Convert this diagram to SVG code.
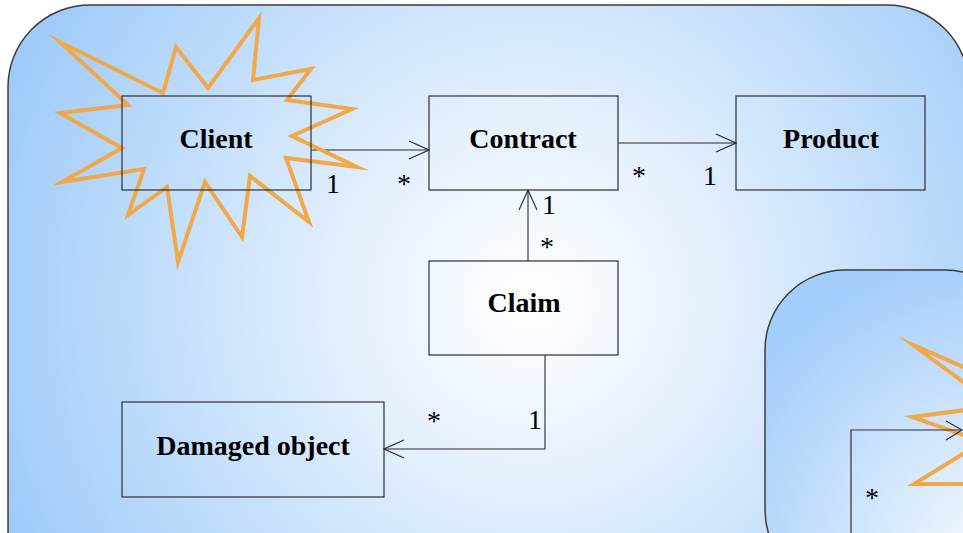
<svg xmlns="http://www.w3.org/2000/svg" width="963" height="533" viewBox="0 0 963 533">
  <defs>
    <radialGradient id="bgMain" gradientUnits="userSpaceOnUse" cx="530" cy="300" r="560">
      <stop offset="0" stop-color="#ffffff"/>
      <stop offset="0.35" stop-color="#e2effd"/>
      <stop offset="1" stop-color="#9fcbf9"/>
    </radialGradient>
    <radialGradient id="bgInner" gradientUnits="userSpaceOnUse" cx="1010" cy="570" r="320">
      <stop offset="0" stop-color="#ffffff"/>
      <stop offset="0.3" stop-color="#e0eefd"/>
      <stop offset="1" stop-color="#a3cdfa"/>
    </radialGradient>
    <marker id="open" viewBox="0 0 22 20" refX="21" refY="10" markerWidth="22" markerHeight="20" markerUnits="userSpaceOnUse" orient="auto">
      <path d="M1,1 L21,10 L1,19" fill="none" stroke="#2a2a2a" stroke-width="1.1"/>
    </marker>
    <style>
      .frame { stroke: #3c3c3c; stroke-width: 1.5; }
      .box { fill: none; stroke: #2e2e2e; stroke-width: 1.2; }
      .name { font-family: "Liberation Serif", "Times New Roman", serif; font-weight: bold; font-size: 28px; fill: #000; text-anchor: middle; }
      .mult { font-family: "Liberation Serif", "Times New Roman", serif; font-size: 28px; fill: #000; text-anchor: middle; }
      .conn { fill: none; stroke: #2a2a2a; stroke-width: 1.1; }
      .star { fill: none; stroke: #f0a848; stroke-width: 4; stroke-linejoin: miter; stroke-miterlimit: 10; }
    </style>
  </defs>

  <!-- slide background -->
  <rect x="0" y="0" width="963" height="533" fill="#ffffff"/>
  <rect class="frame" x="8" y="5" width="961" height="620" rx="82" ry="82" fill="url(#bgMain)"/>

  <!-- connectors -->
  <g id="connectors">
    <line class="conn" x1="311" y1="150" x2="429" y2="150" marker-end="url(#open)"/>
    <line class="conn" x1="618" y1="143" x2="736" y2="143" marker-end="url(#open)"/>
    <line class="conn" x1="528" y1="261" x2="528" y2="190" marker-end="url(#open)"/>
    <polyline class="conn" points="545,355 545,449 384,449" marker-end="url(#open)"/>
    <text class="mult" x="333" y="193">1</text>
    <text class="mult" x="404" y="193">*</text>
    <text class="mult" x="639" y="185">*</text>
    <text class="mult" x="710" y="185">1</text>
    <text class="mult" x="549" y="214">1</text>
    <text class="mult" x="547" y="256">*</text>
    <text class="mult" x="434" y="430">*</text>
    <text class="mult" x="535" y="429">1</text>
  </g>

  <g id="client">
    <polygon class="star" points="60,42 163,93 176,47 208,88 259,18 253,80 311,69 287,100 352,109 292,136 357,167 286,158 309,222 250,176 242,237 205,182 178,262 167,187 128,215 144,169 62,182 122,148 60,113 128,105"/>
    <rect class="box" x="122" y="96" width="189" height="94"/>
    <text class="name" x="216" y="148">Client</text>
  </g>

  <g id="contract">
    <rect class="box" x="429" y="96" width="189" height="94"/>
    <text class="name" x="523" y="148">Contract</text>
  </g>

  <g id="product">
    <rect class="box" x="736" y="96" width="189" height="94"/>
    <text class="name" x="831" y="148">Product</text>
  </g>

  <g id="claim">
    <rect class="box" x="429" y="261" width="189" height="94"/>
    <text class="name" x="524" y="312">Claim</text>
  </g>

  <g id="damaged-object">
    <rect class="box" x="122" y="402" width="262" height="95"/>
    <text class="name" x="253" y="455">Damaged object</text>
  </g>

  <!-- nested slide preview in the lower right -->
  <g id="preview">
    <rect class="frame" x="765" y="270" width="260" height="320" rx="80" ry="80" fill="url(#bgInner)"/>
    <polyline class="star" points="966,368 913,345 966,384"/>
    <polyline class="star" points="966,410 912,417 966,436"/>
    <polyline class="star" points="966,452 914,484 966,484"/>
    <polyline class="box" points="851,533 851,430 962,430"/>
    <polyline class="conn" points="946,421 962,430 946,440"/>
    <text class="mult" x="872" y="507">*</text>
  </g>
</svg>
